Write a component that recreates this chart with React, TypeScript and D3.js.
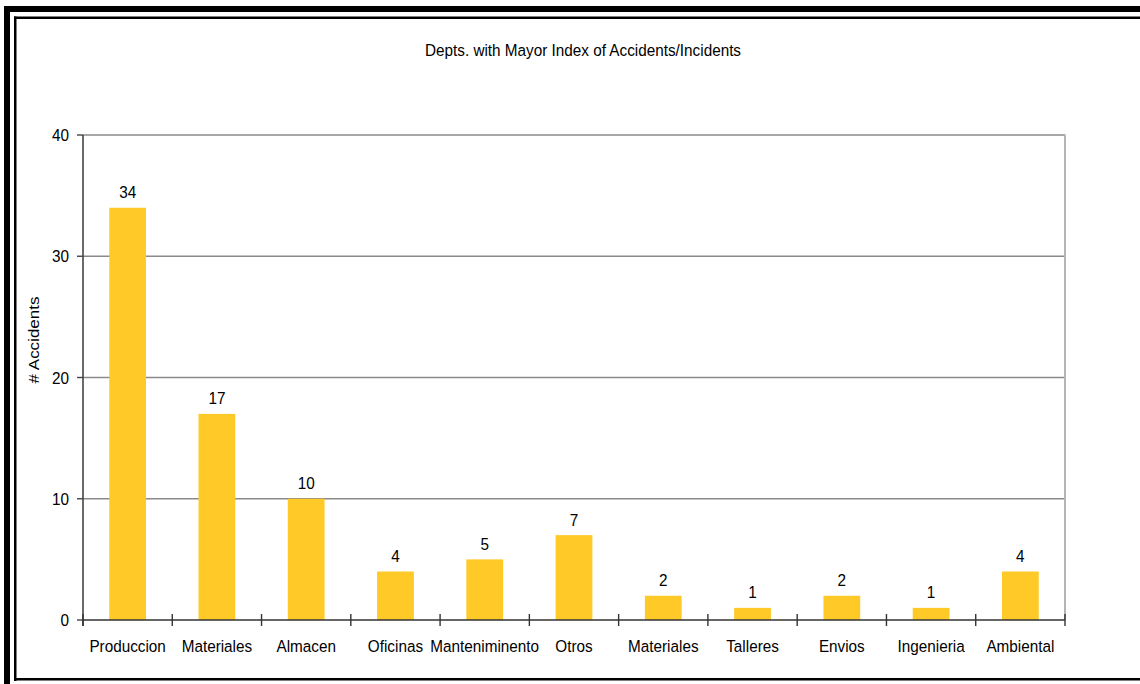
import React from "react";
import * as d3 from "d3";

const categories = ["Produccion", "Materiales", "Almacen", "Oficinas", "Manteniminento", "Otros", "Materiales", "Talleres", "Envios", "Ingenieria", "Ambiental"];
const accidents = [34, 17, 10, 4, 5, 7, 2, 1, 2, 1, 4];
const yTicks = [0, 10, 20, 30, 40];
const title = "Depts. with Mayor Index of Accidents/Incidents";
const yLabel = "# Accidents";

const W = 1140;
const H = 684;
const FONT = "'Liberation Sans', Arial, Helvetica, sans-serif";
const FS = 17;
const SX = 0.9;

function T({ x, y, anchor = "middle", children, rotate = 0 }: any) {
  const tr = rotate
    ? `translate(${x},${y}) rotate(${rotate}) scale(1,${SX})`
    : `translate(${x},${y}) scale(${SX},1)`;
  return (
    <text transform={tr} textAnchor={anchor} fontFamily={FONT} fontSize={FS} fill="#000">
      {children}
    </text>
  );
}

export default function App() {
  const left = 83, right = 1065, top = 135, bottom = 620;
  const x = d3.scaleBand<number>().domain(d3.range(categories.length)).range([left, right]).padding(0);
  const y = d3.scaleLinear().domain([0, 40]).range([bottom, top]);
  const bw = x.bandwidth() * 0.412;
  const boundaries = d3.range(categories.length + 1).map((i) => left + i * x.step());

  return (
    <svg width={W} height={H} style={{ position: "absolute", left: 0, top: 0, background: "#fff" }}>
      <rect x={0} y={0} width={W} height={H} fill="#fff" />
      {/* outer thick frame */}
      <rect x={4} y={6} width={W - 4} height={6} fill="#000" />
      <rect x={4} y={6} width={6} height={H - 6} fill="#000" />
      {/* inner thin frame */}
      <rect x={14} y={16.5} width={W - 14} height={2.5} fill="#000" />
      <rect x={14} y={16.5} width={2.5} height={681 - 16.5} fill="#000" />
      <rect x={14} y={678} width={W - 14} height={2.5} fill="#000" />

      <T x={583} y={56}>{title}</T>

      {/* gridlines */}
      {yTicks.filter((t) => t > 0).map((t) => (
        <line key={t} x1={left} x2={right} y1={y(t)} y2={y(t)} stroke="#8a8a8a" strokeWidth={1.3} />
      ))}
      {/* right border */}
      <line x1={right} x2={right} y1={top - 0.5} y2={bottom} stroke="#b4b4b4" strokeWidth={2} />

      {/* bars */}
      {accidents.map((v, i) => (
        <rect key={i} x={(x(i) as number) + (x.bandwidth() - bw) / 2} y={y(v)} width={bw} height={bottom - y(v)} fill="#FFC928" />
      ))}
      {accidents.map((v, i) => (
        <T key={i} x={(x(i) as number) + x.bandwidth() / 2} y={y(v) - 9.5}>{v}</T>
      ))}

      {/* y axis */}
      <line x1={left} x2={left} y1={top} y2={bottom + 6} stroke="#444" strokeWidth={1.6} />
      {yTicks.map((t) => (
        <g key={t}>
          <line x1={left - 6} x2={left} y1={y(t)} y2={y(t)} stroke="#444" strokeWidth={1.4} />
          <T x={69} y={y(t) + 6} anchor="end">{t}</T>
        </g>
      ))}
      {/* x axis */}
      <line x1={left} x2={right} y1={bottom} y2={bottom} stroke="#333" strokeWidth={1.6} />
      {boundaries.map((b, i) => (
        <line key={i} x1={b} x2={b} y1={bottom - 6} y2={bottom + 6} stroke="#333" strokeWidth={1.4} />
      ))}
      {categories.map((c, i) => (
        <T key={i} x={(x(i) as number) + x.bandwidth() / 2} y={652}>{c}</T>
      ))}

      <T x={39} y={340} rotate={-90}>{yLabel}</T>
    </svg>
  );
}
